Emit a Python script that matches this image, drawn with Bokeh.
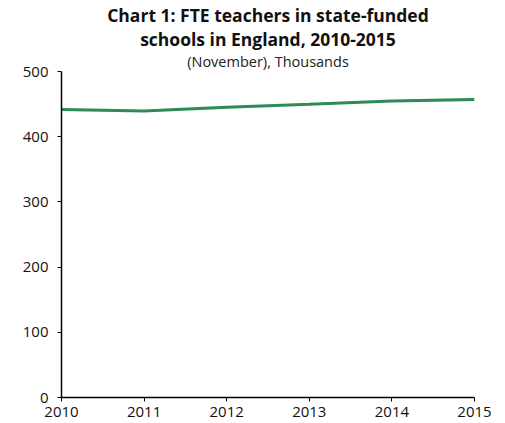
from bokeh.plotting import figure
from bokeh.models import Range1d, FixedTicker, Title
from bokeh.embed import file_html
from bokeh.resources import INLINE

years = [2010, 2011, 2012, 2013, 2014, 2015]
teachers = [441.8, 439.5, 445.0, 449.7, 454.9, 456.9]
y_ticks = [0, 100, 200, 300, 400, 500]

FONT = "Open Sans"

p = figure(width=505, height=423, output_backend="svg", toolbar_location=None,
           x_range=Range1d(2010, 2015), y_range=Range1d(0, 500),
           min_border_left=61, min_border_right=31, min_border_bottom=26, min_border_top=0)
p.title.text = "Chart 1: FTE teachers in state-funded"
p.title.align = "center"
p.title.text_font = FONT
p.title.text_font_size = "17.5px"
p.title.text_font_style = "bold"
p.title.text_color = "#111111"
p.title.standoff = 0
p.title.offset = 0
p.add_layout(Title(text="(November), Thousands", align="center", text_font=FONT,
                   text_font_size="14.5px", text_font_style="normal", text_color="#222222",
                   standoff=1), "above")
p.add_layout(Title(text="schools in England, 2010-2015", align="center", text_font=FONT,
                   text_font_size="17.5px", text_font_style="bold", text_color="#111111",
                   standoff=-3), "above")

p.line(years, teachers, line_color="#2e8b57", line_width=3)

p.outline_line_color = None
p.xgrid.grid_line_color = None
p.ygrid.grid_line_color = None
for ax in (p.xaxis[0], p.yaxis[0]):
    ax.axis_line_color = "black"
    ax.axis_line_width = 1.5
    ax.major_tick_line_color = "black"
    ax.major_tick_in = 0
    ax.major_tick_out = 4
    ax.minor_tick_line_color = None
    ax.major_label_text_font = FONT
    ax.major_label_text_font_size = "15px"
    ax.major_label_text_color = "#111111"
p.xaxis.ticker = FixedTicker(ticks=years)
p.yaxis.ticker = FixedTicker(ticks=y_ticks)
p.xaxis.major_label_standoff = 5
p.yaxis.major_label_standoff = 9

open("out.html", "w").write(file_html(p, INLINE))
